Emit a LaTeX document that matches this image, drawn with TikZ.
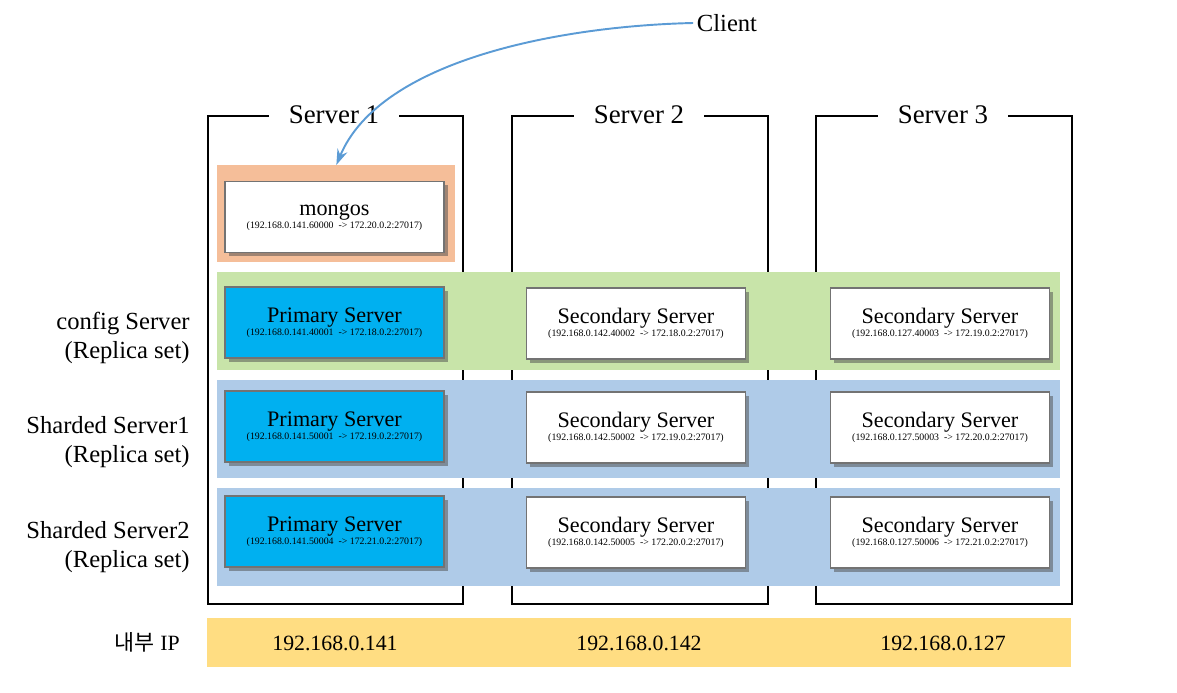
\documentclass[tikz,border=0pt]{standalone}
\usepackage{fontspec}
\setmainfont{Liberation Serif}
\newfontfamily\krfont{Noto Sans CJK KR}
\usetikzlibrary{shadows,arrows.meta}
\newdimen\pxu \pxu=0.02cm
\definecolor{bgorange}{HTML}{F5BE99}
\definecolor{bggreen}{HTML}{C8E4A9}
\definecolor{bgblue}{HTML}{AFCBE8}
\definecolor{primfill}{HTML}{00B0F0}
\definecolor{ipyellow}{HTML}{FFDD82}
\definecolor{arrowblue}{HTML}{5B9BD5}
\newcommand{\bigt}{\fontsize{15.3pt}{18pt}\selectfont}
\newcommand{\boxt}{\fontsize{12.6pt}{13pt}\selectfont}
\newcommand{\smallt}{\fontsize{5.6pt}{6pt}\selectfont}
\newcommand{\lblt}{\fontsize{14pt}{16.4pt}\selectfont}
\newcommand{\ipt}{\fontsize{12.4pt}{14pt}\selectfont}
\newcommand{\boxtext}[2]{{\boxt #1}\\[-4.5pt]{\smallt #2}}
\begin{document}
\begin{tikzpicture}[x=0.02cm,y=-0.02cm,
  frame/.style={draw=black, line width=0.9pt, anchor=north west, inner sep=0pt},
  title/.style={fill=white, inner xsep=0.4cm, inner ysep=1pt, font=\bigt},
  band/.style={draw=none, anchor=north west, inner sep=0pt},
  srvbox/.style={draw=black!55, line width=0.6pt, minimum width=219\pxu, minimum height=71\pxu,
    inner sep=0pt, align=center,
    drop shadow={shadow xshift=3.5\pxu, shadow yshift=-3.5\pxu, opacity=0.5, fill=black!70}},
  prim/.style={srvbox, fill=primfill},
  sec/.style={srvbox, fill=white},
  lbl/.style={anchor=east, align=right, font=\lblt, inner sep=0pt},
  iptxt/.style={font=\ipt, inner sep=0pt}
]
\useasboundingbox (0,0) rectangle (1177,693);

% server frames
\node[frame, minimum width=255\pxu, minimum height=488\pxu] (s1) at (207,115) {};
\node[frame, minimum width=256\pxu, minimum height=488\pxu] (s2) at (511,115) {};
\node[frame, minimum width=256\pxu, minimum height=488\pxu] (s3) at (815,115) {};
\node[title] (t1) at (334,115) {Server 1};
\node[title] (t2) at (639,115) {Server 2};
\node[title] (t3) at (943,115) {Server 3};

% background bands
\node[band, fill=bgorange, minimum width=238\pxu, minimum height=97\pxu] (mgbg) at (217,165) {};
\node[band, fill=bggreen, minimum width=843\pxu, minimum height=98\pxu] (cfgband) at (217,272) {};
\node[band, fill=bgblue, minimum width=843\pxu, minimum height=98\pxu] (sh1band) at (217,380) {};
\node[band, fill=bgblue, minimum width=843\pxu, minimum height=98\pxu] (sh2band) at (217,488) {};

% mongos
\node[sec] (mongos) at (334.5,217) {\boxtext{mongos}{(192.168.0.141.60000\ \ -> 172.20.0.2:27017)}};

% config row
\node[prim] (c1) at (334.5,322.5) {\boxtext{Primary Server}{(192.168.0.141.40001\ \ -> 172.18.0.2:27017)}};
\node[sec] (c2) at (636,323.5) {\boxtext{Secondary Server}{(192.168.0.142.40002\ \ -> 172.18.0.2:27017)}};
\node[sec] (c3) at (940,323.5) {\boxtext{Secondary Server}{(192.168.0.127.40003\ \ -> 172.19.0.2:27017)}};

% shard 1 row
\node[prim] (a1) at (334.5,426.5) {\boxtext{Primary Server}{(192.168.0.141.50001\ \ -> 172.19.0.2:27017)}};
\node[sec] (a2) at (636,427.5) {\boxtext{Secondary Server}{(192.168.0.142.50002\ \ -> 172.19.0.2:27017)}};
\node[sec] (a3) at (940,427.5) {\boxtext{Secondary Server}{(192.168.0.127.50003\ \ -> 172.20.0.2:27017)}};

% shard 2 row
\node[prim] (b1) at (334.5,531.5) {\boxtext{Primary Server}{(192.168.0.141.50004\ \ -> 172.21.0.2:27017)}};
\node[sec] (b2) at (636,532.5) {\boxtext{Secondary Server}{(192.168.0.142.50005\ \ -> 172.20.0.2:27017)}};
\node[sec] (b3) at (940,532.5) {\boxtext{Secondary Server}{(192.168.0.127.50006\ \ -> 172.21.0.2:27017)}};

% left labels
\node[lbl] (lc) at (190,338) {config Server\\(Replica set)};
\node[lbl] (ls1) at (190,442) {Sharded Server1\\(Replica set)};
\node[lbl] (ls2) at (190,547) {Sharded Server2\\(Replica set)};

% IP bar
\node[band, fill=ipyellow, minimum width=864\pxu, minimum height=49\pxu] (ipbar) at (207,618) {};
\node[lbl, font=\ipt] (iplbl) at (180,642) {{\krfont 내부} IP};
\node[iptxt] (ip1) at (335,643) {192.168.0.141};
\node[iptxt] (ip2) at (639,643) {192.168.0.142};
\node[iptxt] (ip3) at (943,643) {192.168.0.127};

% client
\node[font=\fontsize{14pt}{16pt}\selectfont, inner sep=2pt] (client) at (727,23) {Client};
\draw[arrowblue, line width=1.1pt, -{Stealth[length=9pt,width=6pt,inset=3pt]}]
  (client.west) .. controls (560,26) and (380,60) .. (mgbg.north);
\end{tikzpicture}
\end{document}
